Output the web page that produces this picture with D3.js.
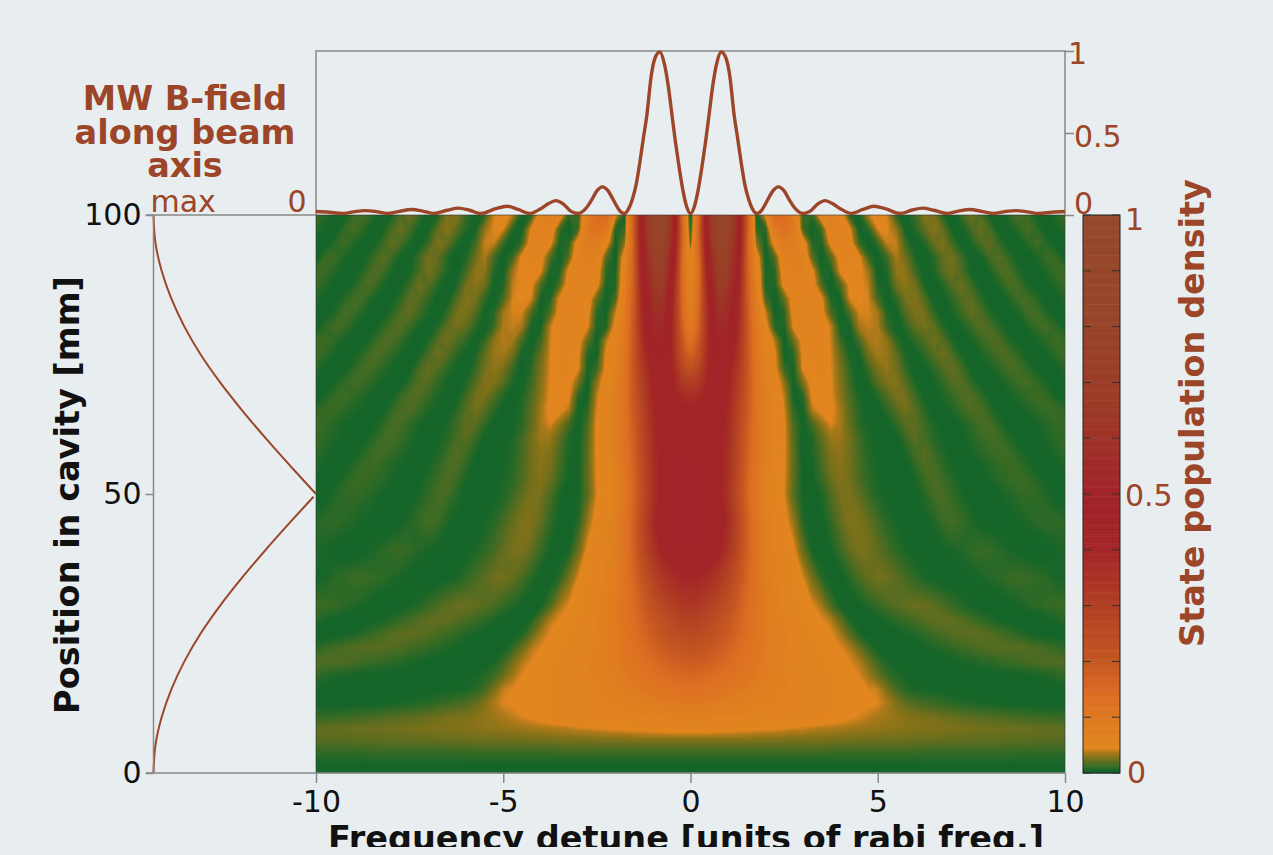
<!DOCTYPE html>
<html>
<head>
<meta charset="utf-8">
<script src="https://d3js.org/d3.v7.min.js"></script>
<style>
  html, body { margin: 0; padding: 0; background: #e8eef0; overflow: hidden; }
  text { font-family: "DejaVu Sans", sans-serif; }
</style>
</head>
<body>
<svg id="chart" width="1273" height="855"></svg>
<script>
// detune columns of the map (right half, the map is mirror symmetric)
var detuneCols = [0, 0.1, 0.25, 0.5, 0.75, 1, 1.25, 1.5, 1.75, 2,
    2.25, 2.5, 2.75, 3, 3.25, 3.5, 3.75, 4, 4.25, 4.5, 4.75, 5, 5.25, 5.5, 5.75, 6,
    6.25, 6.5, 6.75, 7, 7.25, 7.5, 7.75, 8, 8.25, 8.5, 8.75, 9, 9.25, 9.5, 9.75, 10];

var positionRows = [100, 97.5, 95, 92.5, 90, 87.5, 85, 82.5, 80, 77.5, 75, 72.5, 70, 67.5, 65,
    62.5, 60, 57.5, 55, 52.5, 50, 45, 40, 35, 30, 27.5, 25, 22.5, 20, 17.5, 15, 12.5, 10, 8, 6, 4, 2, 0];

// population density x1000, one line per position row
var populationGrid = [
[0,50,180,600,930,850,560,200,2,45, 160,150,85,10, 10,62,80,60, 8,3,38,47, 40,8,2,12, 30,26,6,1, 13,24,16,3, 1,9,16,12, 2,2,8,12],
[5,60,200,590,880,820,540,200,12,6, 95,130,100,14, 1,14,68,66, 45,3,8,42, 43,30,2,8, 20,30,20,3, 3,15,22,14, 2,2,9,15, 10,1,3,8],
[20,70,190,560,830,780,520,190,30,2, 55,92,90,58, 8,5,50,60, 55,12,0,12, 40,39,12,1, 8,22,27,12, 1,6,16,20, 10,1,2,8, 14,8,1,3],
[50,80,170,520,770,720,500,190,60,1, 18,70,80,68, 18,1,18,52, 55,47,12,1, 14,36,22,6, 0,8,21,24, 12,1,4,14, 18,10,2,1, 6,12,11,1],
[65,85,160,490,720,680,480,190,70,4, 8,58,68,66, 48,5,5,45, 50,48,32,1, 7,31,30,13, 1,6,18,24, 15,3,0,6, 15,16,7,1, 2,7,12,12],
[70,90,165,450,680,640,455,195,75,6, 5,50,62,64, 55,16,0,16, 46,45,38,6, 3,24,30,24, 5,1,8,18, 22,12,2,1, 7,15,14,6, 1,2,7,11],
[75,95,170,420,640,600,430,200,85,16, 1,20,56,62, 58,46,6,4, 41,43,41,14, 1,10,25,28, 16,2,2,10, 18,19,9,1, 1,6,13,14, 8,1,2,7],
[85,105,180,405,600,560,415,205,90,40, 3,8,50,58, 58,50,16,1, 16,41,41,34, 7,3,18,27, 24,10,0,5, 13,20,16,7, 1,1,6,13, 14,7,1,2],
[100,120,190,395,560,530,400,210,100,52, 7,5,44,54, 57,52,38,4, 4,34,39,36, 12,1,9,20, 25,20,7,0, 5,12,18,15, 8,1,1,6, 12,14,9,2],
[130,150,215,390,520,490,380,215,105,60, 36,1,22,50, 55,52,40,12, 1,14,34,37, 30,10,2,10, 16,24,18,6, 0,4,11,16, 15,8,2,1, 4,9,13,11],
[170,185,240,400,490,460,355,215,110,65, 46,3,8,46, 53,52,41,22, 5,4,24,34, 32,20,5,2, 9,18,23,15, 4,1,5,10, 15,15,9,3, 1,4,9,13],
[230,240,280,410,470,430,330,215,115,70, 48,12,4,44, 50,50,42,26, 9,0,12,26, 31,24,10,1, 3,9,17,21, 14,3,1,4, 9,14,14,9, 3,0,3,8],
[300,305,330,420,460,415,315,210,120,75, 55,30,1,26, 49,50,43,28, 12,2,6,18, 27,28,17,6, 0,4,10,17, 17,9,2,1, 4,8,12,14, 10,5,1,2],
[370,375,385,430,450,400,300,205,125,80, 58,38,3,8, 46,49,44,30, 16,6,1,7, 16,26,24,13, 3,1,6,11, 16,17,11,3, 1,3,7,10, 13,11,5,1],
[410,415,420,440,445,390,285,200,125,85, 60,42,10,2, 36,46,47,34, 19,8,2,1, 9,18,24,18, 8,1,2,6, 12,16,15,9, 2,1,3,6, 9,11,12,9],
[430,435,440,450,440,380,280,190,125,85, 60,45,15,2, 14,30,42,35, 20,9,3,1, 2,10,18,20, 12,6,1,1, 5,10,14,14, 8,2,1,2, 4,7,10,11],
[445,447,450,455,435,370,270,185,120,80, 60,45,18,2, 7,20,32,33, 24,13,6,2, 1,2,12,19, 14,8,3,1, 3,7,11,14, 13,7,2,1, 3,6,8,10],
[455,455,460,460,430,365,265,180,120,80, 58,45,20,1, 6,16,28,30, 24,14,7,3, 1,0,6,14, 18,12,6,2, 1,4,8,11, 13,12,7,3, 1,3,6,9],
[460,460,465,465,430,360,260,175,115,78, 56,44,20,3, 4,14,25,29, 24,15,8,4, 2,1,1,9, 16,15,9,4, 1,1,4,7, 10,12,11,7, 2,1,3,6],
[465,465,465,465,430,355,255,170,112,75, 55,43,20,3, 3,11,22,28, 24,16,9,5, 2,1,0,5, 12,16,12,7, 3,0,2,5, 8,10,12,11, 7,3,0,2],
[470,470,470,470,430,350,250,165,110,72, 53,42,18,3, 1,6,16,25, 26,20,12,6, 3,1,0,2, 8,14,15,10, 5,2,0,2, 4,7,9,11, 10,6,2,0],
[470,470,470,470,450,380,270,180,115,80, 60,48,32,8, 0,3,10,20, 27,27,21,14, 8,4,2,0, 2,6,12,14, 11,7,3,1, 0,2,4,6, 8,10,10,8],
[460,460,460,460,420,340,260,180,120,85, 65,55,45,22, 4,1,4,12, 21,26,25,20, 14,9,5,2, 1,1,3,5, 7,10,12,11, 8,5,3,1, 0,2,4,6],
[400,400,395,370,330,280,220,165,120,90, 70,58,50,42, 25,8,1,2, 8,15,21,24, 23,19,14,9, 5,3,1,0, 1,3,5,7, 9,11,12,12, 10,8,5,3],
[330,330,320,295,265,230,190,150,120,95, 75,62,54,48, 43,34,15,4, 0,3,7,11, 15,18,21,22, 22,19,15,11, 7,4,2,0, 1,3,5,7, 9,11,12,12],
[290,290,280,260,235,205,175,145,118,95, 78,65,57,51, 47,43,36,20, 6,1,1,3, 6,9,12,15, 18,20,21,20, 17,13,10,7, 4,2,1,0, 1,3,5,8],
[260,258,250,235,215,190,165,140,115,95, 80,68,60,54, 49,46,43,34, 18,6,1,0, 1,3,5,7, 10,13,15,18, 19,20,19,17, 14,11,8,5, 3,1,0,2],
[220,220,215,205,190,170,150,130,110,95, 80,70,62,56, 52,49,46,42, 36,22,10,3, 1,0,1,2, 4,6,8,10, 12,14,16,17, 18,18,18,17, 15,13,11,8],
[190,190,186,178,165,150,135,120,105,92, 80,71,64,58, 54,51,48,45, 42,36,24,12, 5,2,1,0, 0,1,2,3, 5,6,8,9, 11,12,13,15, 16,17,17,17],
[160,160,157,152,142,132,120,110,98,88, 79,71,65,60, 56,53,50,48, 46,42,33,22, 12,7,4,2, 1,1,0,0, 0,1,1,2, 2,3,3,4, 5,6,8,10],
[130,130,128,124,118,110,102,95,87,80, 73,67,62,58, 55,52,50,48, 46,44,42,39, 26,14,8,5, 4,3,3,2, 2,2,1,1, 1,0,0,0, 1,1,2,2],
[100,100,99,96,92,88,83,78,74,70, 66,62,59,56, 54,52,50,48, 47,45,44,42, 36,27,20,16, 14,12,10,8, 7,6,5,4, 3,3,3,2, 2,2,2,2],
[70,70,70,69,67,66,64,62,60,59, 57,56,55,54, 53,52,50,47, 44,41,38,35, 33,31,29,27, 26,25,23,22, 20,19,18,17, 16,15,14,13, 12,12,11,11],
[50,50,50,50,49,48,47,46,45,44, 43,42,41,40, 38,37,36,35, 34,33,32,31, 30,30,29,28, 28,27,27,26, 25,25,24,24, 23,23,22,22, 21,21,20,20],
[28,28,28,28,28,28,28,28,27,27, 27,27,26,26, 26,26,25,25, 25,24,24,24, 23,23,23,22, 22,22,21,21, 21,20,20,20, 20,19,19,19, 18,18,18,18],
[14,14,14,14,14,14,14,14,14,14, 14,14,14,14, 14,14,13,13, 13,13,13,13, 13,13,13,13, 12,12,12,12, 12,12,12,12, 12,12,11,11, 11,11,11,11],
[5,5,5,5,5,5,5,5,5,5, 5,5,5,5, 5,5,5,5, 5,5,5,5, 5,5,5,5, 5,5,5,5, 5,5,5,5, 5,5,5,5, 5,5,5,5],
[0,0,0,0,0,0,0,0,0,0, 0,0,0,0, 0,0,0,0, 0,0,0,0, 0,0,0,0, 0,0,0,0, 0,0,0,0, 0,0,0,0, 0,0,0,0]
];

// top panel: transmission trace (right half, mirrored when drawn)
var traceDetune = [0, 0.1, 0.2, 0.3, 0.4, 0.5, 0.6, 0.7, 0.82, 0.95, 1.05, 1.17, 1.25, 1.35, 1.45, 1.55, 1.65, 1.77,
    1.9, 2.05, 2.2, 2.35, 2.5, 2.65, 2.8, 3, 3.2, 3.4, 3.6, 3.8, 4, 4.3, 4.6, 4.9, 5.2, 5.6, 5.9, 6.2, 6.5, 6.85,
    7.15, 7.45, 7.8, 8.1, 8.4, 8.7, 9, 9.3, 9.65, 10];
var traceValue = [0, 0.04, 0.14, 0.28, 0.44, 0.62, 0.8, 0.93, 1, 0.96, 0.85, 0.6, 0.48, 0.32, 0.18, 0.09, 0.03, 0,
    0.02, 0.08, 0.14, 0.165, 0.14, 0.08, 0.03, 0, 0.015, 0.06, 0.08, 0.06, 0.03, 0, 0.025, 0.045, 0.03, 0, 0.02, 0.033, 0.02, 0,
    0.015, 0.025, 0.012, 0, 0.012, 0.018, 0.01, 0, 0.008, 0.012];

// left panel: field strength along the beam axis, upper and lower half of the cavity
var fieldUpperPosition = [100, 95, 90, 85, 80, 75, 70, 65, 60, 55, 50];
var fieldUpperValue = [1, 0.988, 0.95, 0.89, 0.81, 0.71, 0.59, 0.455, 0.31, 0.157, 0];
var fieldLowerPosition = [0, 5, 10, 15, 20, 25, 30, 35, 40, 45, 49.5];
var fieldLowerValue = [1, 0.988, 0.95, 0.89, 0.81, 0.71, 0.59, 0.455, 0.31, 0.157, 0.015];

var xTicks = [-10, -5, 0, 5, 10];
var yTicks = [0, 50, 100];
var traceTicks = [0, 0.5, 1];
var barTicks = [0, 0.1, 0.2, 0.3, 0.4, 0.5, 0.6, 0.7, 0.8, 0.9, 1];
var barLabels = [0, 0.5, 1];

var colorStops = [0, 0.004, 0.01, 0.018, 0.028, 0.036, 0.042, 0.07, 0.14, 0.2, 0.3, 0.4, 0.5, 0.55, 0.65, 0.8, 1];
var colorValues = ["#14652a", "#186629", "#336a25", "#5a6c20", "#857218", "#b07a1a", "#e2861f", "#e0801f", "#dc6d22",
    "#c45622", "#b03e23", "#a32527", "#a12429", "#a02a28", "#9c3a27", "#984429", "#95492b"];

var rust = "#9c4528";
var axisGrey = "#888888";
var ink = "#111111";

var svg = d3.select("#chart");

var x = d3.scaleLinear().domain([-10, 10]).range([316, 1065]);
var y = d3.scaleLinear().domain([0, 100]).range([773, 215]);
var color = d3.scaleLinear().domain(colorStops).range(colorValues).interpolate(d3.interpolateRgb);

svg.append("defs").append("clipPath").attr("id", "pageClip")
    .append("rect").attr("width", 1273).attr("height", 847);
svg.select("defs").append("clipPath").attr("id", "mapClip")
    .append("rect").attr("x", x(-10)).attr("y", y(100))
    .attr("width", x(10) - x(-10)).attr("height", y(0) - y(100));

drawMap();
drawTrace();
drawField();
drawAxes();
drawColorbar();
drawTitles();

function drawMap() {
    // mirror the half grid so contours run over the full width
    var fullCols = detuneCols.slice(1).reverse().map(function(d) { return -d; }).concat(detuneCols);
    var values = [];
    populationGrid.forEach(function(r) {
        r.slice(1).reverse().concat(r).forEach(function(v) { values.push(v / 1000); });
    });

    var thresholds = d3.range(0, 0.05, 0.001).concat(d3.range(0.05, 1, 0.008));
    var contours = d3.contours()
        .size([fullCols.length, positionRows.length])
        .smooth(true)
        .thresholds(thresholds)(values);

    // grid index -> data value, the grid is not evenly spaced
    var colIndex = d3.scaleLinear().domain(fullCols.map(function(d, i) { return i + 0.5; })).range(fullCols).clamp(true);
    var rowIndex = d3.scaleLinear().domain(positionRows.map(function(d, i) { return i + 0.5; })).range(positionRows).clamp(true);
    var path = d3.geoPath(d3.geoTransform({
        point: function(px, py) { this.stream.point(x(colIndex(px)), y(rowIndex(py))); }
    }));

    var map = svg.append("g").attr("clip-path", "url(#mapClip)");
    map.append("rect").attr("x", x(-10)).attr("y", y(100))
        .attr("width", x(10) - x(-10)).attr("height", y(0) - y(100))
        .attr("fill", color(0));
    map.selectAll("path").data(contours).enter().append("path")
        .attr("d", path)
        .attr("fill", function(d) { return color(d.value); });

    svg.append("rect").attr("x", x(-10)).attr("y", y(100))
        .attr("width", x(10) - x(-10)).attr("height", y(0) - y(100))
        .attr("fill", "none").attr("stroke", "#333").attr("stroke-width", 0.6);
}

function drawTrace() {
    var yTrace = d3.scaleLinear().domain([0, 1]).range([213.5, 52]);
    var pts = [];
    for (var i = traceDetune.length - 1; i > 0; i--) pts.push([-traceDetune[i], traceValue[i]]);
    for (var j = 0; j < traceDetune.length; j++) pts.push([traceDetune[j], traceValue[j]]);

    var box = svg.append("g").attr("fill", "none").attr("stroke", axisGrey).attr("stroke-width", 1.5);
    box.append("path").attr("d", d3.line()([[x(-10), 215], [x(-10), 51], [x(10), 51], [x(10), 215]]));

    var line = d3.line()
        .x(function(d) { return x(d[0]); })
        .y(function(d) { return yTrace(d[1]); })
        .curve(d3.curveMonotoneX);
    svg.append("path").datum(pts).attr("d", line)
        .attr("fill", "none").attr("stroke", rust).attr("stroke-width", 3.4);

    var axisScale = d3.scaleLinear().domain([0, 1]).range([215, 51]);
    var axis = svg.append("g").attr("transform", "translate(" + x(10) + ",0)")
        .call(d3.axisRight(axisScale).tickValues(traceTicks).tickSize(9).tickPadding(0).tickFormat(String));
    axis.select(".domain").remove();
    axis.selectAll("line").attr("stroke", axisGrey).attr("stroke-width", 1.5);
    axis.selectAll("text").attr("font-size", 30).attr("fill", rust)
        .attr("x", function(d) { return d == 1 ? 3 : 9; })
        .attr("dy", function(d) { return d == 0 ? -2 : (d == 1 ? 12 : 13); });
}

function drawField() {
    var xField = d3.scaleLinear().domain([1, 0]).range([153.5, 316]);
    function fieldLine(positions, values) {
        var line = d3.line()
            .x(function(d, i) { return xField(values[i]); })
            .y(function(d) { return y(d); })
            .curve(d3.curveCatmullRom);
        svg.append("path").datum(positions).attr("d", line)
            .attr("fill", "none").attr("stroke", rust).attr("stroke-width", 2);
    }
    fieldLine(fieldUpperPosition, fieldUpperValue);
    fieldLine(fieldLowerPosition, fieldLowerValue);

    svg.append("text").attr("x", xField(1) - 3).attr("y", 212).attr("font-size", 30).attr("fill", rust).text("max");
    svg.append("text").attr("x", 297).attr("y", 212).attr("text-anchor", "middle").attr("font-size", 30).attr("fill", rust).text("0");
}

function drawAxes() {
    var left = svg.append("g").attr("transform", "translate(153.5,0)")
        .call(d3.axisLeft(y).tickValues(yTicks).tickSize(8).tickPadding(4).tickFormat(String));
    left.select(".domain").remove();
    left.selectAll("line").attr("stroke", axisGrey).attr("stroke-width", 1.5);
    left.selectAll("text").attr("font-size", 30).attr("fill", ink);

    var rules = svg.append("g").attr("stroke", axisGrey).attr("stroke-width", 1.5).attr("fill", "none");
    rules.append("path").attr("d", d3.line()([[153.5, 215], [153.5, 773]]));
    rules.append("path").attr("d", d3.line()([[146, 215], [316, 215]]));
    rules.append("path").attr("d", d3.line()([[146, 773], [1065, 773]]));

    var bottom = svg.append("g").attr("transform", "translate(0,773)")
        .call(d3.axisBottom(x).tickValues(xTicks).tickSize(10).tickFormat(String));
    bottom.select(".domain").remove();
    bottom.selectAll("line").attr("stroke", axisGrey).attr("stroke-width", 1.5);
    bottom.selectAll("text").attr("font-size", 30).attr("fill", ink).attr("y", 39).attr("dy", 0);
}

function drawColorbar() {
    var bar = d3.scaleLinear().domain([0, 1]).range([773, 215]);
    var bands = d3.range(0, 1, 0.004);
    var g = svg.append("g");
    g.selectAll("rect").data(bands).enter().append("rect")
        .attr("x", 1083).attr("width", 37)
        .attr("y", function(d) { return bar(d + 0.004); })
        .attr("height", function(d) { return bar(d) - bar(d + 0.004) + 0.5; })
        .attr("fill", function(d) { return color(d); });
    g.append("rect").attr("x", 1083).attr("y", 215).attr("width", 37).attr("height", 558)
        .attr("fill", "none").attr("stroke", "#222").attr("stroke-width", 1);

    g.selectAll("path.tick").data(barTicks).enter().append("path").attr("class", "tick")
        .attr("d", function(d) {
            return d3.line()([[1083, bar(d)], [1091, bar(d)]]) + d3.line()([[1112, bar(d)], [1120, bar(d)]]);
        })
        .attr("stroke", "#333").attr("stroke-width", 1);

    g.selectAll("text").data(barLabels).enter().append("text")
        .attr("x", function(d) { return d == 0 ? 1127 : 1125; })
        .attr("y", function(d) { return d == 1 ? 230 : (d == 0.5 ? 506 : 783); })
        .attr("font-size", 30).attr("fill", rust)
        .text(function(d) { return d; });
}

function drawTitles() {
    var field = svg.append("g").attr("text-anchor", "middle").attr("font-size", 33.5)
        .attr("font-weight", "bold").attr("fill", rust);
    field.append("text").attr("x", 185).attr("y", 110).text("MW B-field");
    field.append("text").attr("x", 185).attr("y", 144).text("along beam");
    field.append("text").attr("x", 185).attr("y", 177).text("axis");

    svg.append("text").attr("transform", "translate(79,495) rotate(-90)")
        .attr("text-anchor", "middle").attr("font-size", 33.5).attr("font-weight", "bold").attr("fill", ink)
        .text("Position in cavity [mm]");

    svg.append("text").attr("transform", "translate(1204,413) rotate(-90)")
        .attr("text-anchor", "middle").attr("font-size", 33.5).attr("font-weight", "bold").attr("fill", rust)
        .text("State population density");

    svg.append("text").attr("x", 686).attr("y", 850).attr("clip-path", "url(#pageClip)")
        .attr("text-anchor", "middle").attr("font-size", 33.5).attr("font-weight", "bold").attr("fill", ink)
        .text("Frequency detune [units of rabi freq.]");
}
</script>
</body>
</html>
